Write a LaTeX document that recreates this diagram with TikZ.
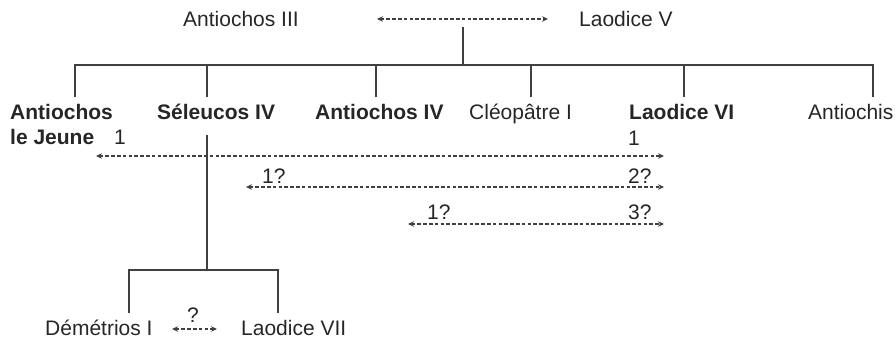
\documentclass[tikz,border=0pt]{standalone}
\usepackage{fontspec}
\setmainfont{Liberation Sans}
\usetikzlibrary{arrows.meta}
\begin{document}
\begin{tikzpicture}[x=1pt,y=-1pt,
  lbl/.style={anchor=base west,inner sep=0pt,font=\fontsize{21}{25}\selectfont,text=black!85},
  royal/.style={lbl,font=\fontsize{21}{25}\selectfont\bfseries},
  tree/.style={line width=1.3pt,draw=black!75},
  marriage/.style={line width=1.3pt,draw=black!75,dash pattern=on 3.5pt off 2.3pt,
    {Stealth[length=6pt,width=5.5pt]}-{Stealth[length=6pt,width=5.5pt]}}]
\useasboundingbox (0,0) rectangle (896,339);

% generation of Antiochos III and Laodice V
\node[lbl] (a3) at (183,27) {Antiochos III};
\node[lbl] (l5) at (579,27) {Laodice V};
\coordinate (m0a) at (377,19);
\coordinate (m0b) at (548,19);
\draw[marriage] (m0a) -- (m0b);

% children
\node[royal] (aj) at (10,120) {Antiochos};
\node[royal] (ajb) at (10,145) {le Jeune};
\node[royal] (s4) at (157,120) {Séleucos IV};
\node[royal] (a4) at (315,120) {Antiochos IV};
\node[lbl] (c1) at (469,120) {Cléopâtre I};
\node[royal] (l6) at (629,120) {Laodice VI};
\node[lbl] (ach) at (808,120) {Antiochis};

\coordinate (top) at (463,27);
\coordinate (bar) at (463,65);
\draw[tree] (top) -- (bar);
\draw[tree] (75,97) |- (873,65) -- (873,97);
\foreach \x in {207,376,531,684}
  \draw[tree] (\x,65) -- (\x,97);

% marriages of Laodice VI
\coordinate (l6a) at (664,156);
\coordinate (l6b) at (664,187);
\coordinate (l6c) at (664,224);
\coordinate (aje) at (96,156);
\coordinate (s4e) at (246,187);
\coordinate (a4e) at (408,224);
\draw[marriage] (aje) -- (l6a);
\draw[marriage] (s4e) -- (l6b);
\draw[marriage] (a4e) -- (l6c);
\node[lbl] (n1a) at (114,145) {1};
\node[lbl] (n1b) at (628,146) {1};
\node[lbl] (n2a) at (262,183) {1?};
\node[lbl] (n2b) at (628,183) {2?};
\node[lbl] (n3a) at (427,219) {1?};
\node[lbl] (n3b) at (628,219) {3?};

% children of Séleucos IV
\coordinate (s4d) at (207,135);
\draw[tree] (s4d) -- (207,270);
\draw[tree] (129,313) |- (278,270) -- (278,313);
\node[lbl] (d1) at (45,335) {Démétrios I};
\node[lbl] (l7) at (241,335) {Laodice VII};
\draw[marriage] (172,329) -- (217,329);
\node[lbl] (q) at (187,322) {?};
\end{tikzpicture}
\end{document}
